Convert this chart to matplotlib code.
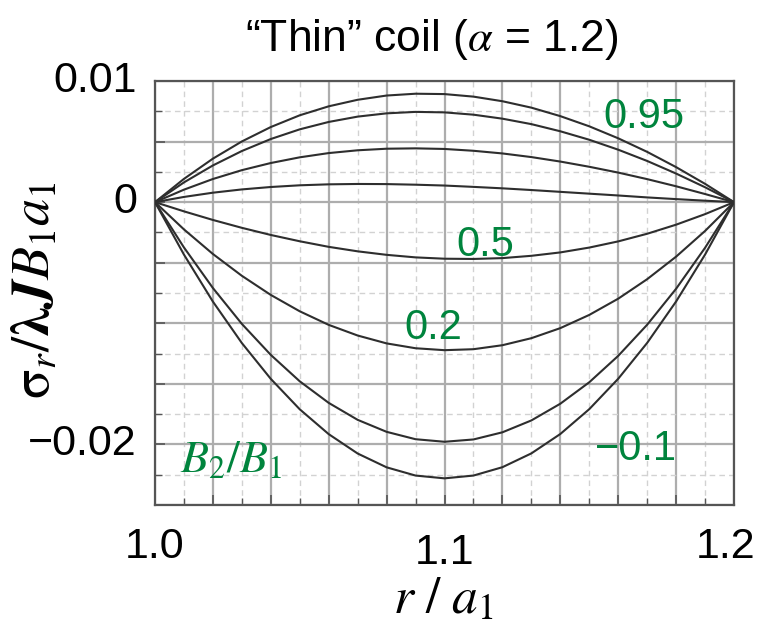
import matplotlib
matplotlib.use("Agg")
import matplotlib.pyplot as plt
import matplotlib.transforms as mtransforms
from matplotlib.ticker import MultipleLocator, NullFormatter

# ---- data ----
r = [1.00, 1.01, 1.02, 1.03, 1.04, 1.05, 1.06, 1.07, 1.08, 1.09, 1.10,
     1.11, 1.12, 1.13, 1.14, 1.15, 1.16, 1.17, 1.18, 1.19, 1.20]

s_095 = [0, 0.00192, 0.00359, 0.00501, 0.00620, 0.00717, 0.00791, 0.00845, 0.00880, 0.00895, 0.00892,
         0.00871, 0.00833, 0.00780, 0.00710, 0.00626, 0.00527, 0.00415, 0.00289, 0.00151, 0]
s_090 = [0, 0.00163, 0.00303, 0.00422, 0.00521, 0.00601, 0.00662, 0.00706, 0.00733, 0.00745, 0.00741,
         0.00722, 0.00689, 0.00644, 0.00585, 0.00515, 0.00433, 0.00340, 0.00236, 0.00123, 0]
s_080 = [0, 0.00103, 0.00191, 0.00264, 0.00323, 0.00370, 0.00405, 0.00428, 0.00441, 0.00444, 0.00439,
         0.00424, 0.00402, 0.00372, 0.00335, 0.00292, 0.00244, 0.00190, 0.00131, 0.00067, 0]
s_070 = [0, 0.00043, 0.00078, 0.00105, 0.00125, 0.00139, 0.00147, 0.00150, 0.00149, 0.00144, 0.00137,
         0.00126, 0.00114, 0.00100, 0.00085, 0.00070, 0.00055, 0.00039, 0.00025, 0.00012, 0]
s_050 = [0, -0.00076, -0.00147, -0.00212, -0.00271, -0.00323, -0.00369, -0.00406, -0.00435, -0.00456, -0.00467,
         -0.00469, -0.00462, -0.00443, -0.00415, -0.00375, -0.00324, -0.00261, -0.00186, -0.00099, 0]
s_020 = [0, -0.00225, -0.00428, -0.00608, -0.00766, -0.00901, -0.01013, -0.01101, -0.01166, -0.01206, -0.01222,
         -0.01214, -0.01181, -0.01123, -0.01040, -0.00931, -0.00797, -0.00636, -0.00450, -0.00238, 0]
s_000 = [0, -0.00374, -0.00709, -0.01005, -0.01261, -0.01479, -0.01657, -0.01797, -0.01896, -0.01957, -0.01978,
         -0.01959, -0.01900, -0.01802, -0.01664, -0.01487, -0.01269, -0.01012, -0.00715, -0.00377, 0]
s_m01 = [0, -0.00433, -0.00821, -0.01163, -0.01459, -0.01710, -0.01915, -0.02075, -0.02189, -0.02257, -0.02280,
         -0.02257, -0.02188, -0.02074, -0.01914, -0.01709, -0.01458, -0.01162, -0.00820, -0.00433, 0]
series = [s_095, s_090, s_080, s_070, s_050, s_020, s_000, s_m01]

curve_labels = ["0.95", "0.5", "0.2", "\u22120.1"]
label_pos = [(1.1690, 0.00700), (1.1140, -0.00350), (1.0960, -0.01040), (1.1660, -0.02040)]

xtick_vals = [1.0, 1.1, 1.2]
xtick_text = ["1.0", "1.1", "1.2"]
ytick_vals = [0.01, 0.0, -0.02]
ytick_text = ["0.01", "0", "\u22120.02"]

# ---- style ----
plt.rcParams['font.family'] = ['Liberation Sans', 'DejaVu Sans']
plt.rcParams['mathtext.fontset'] = 'stix'
green = '#00843D'

fig = plt.figure(figsize=(7.57, 6.31), dpi=100)
L, R, T, B = 155, 734, 81, 505
ax = fig.add_axes([L / 757, 1 - B / 631, (R - L) / 757, (B - T) / 631])

ax.set_xlim(1.0, 1.2)
ax.set_ylim(-0.025, 0.01)

ax.xaxis.set_major_locator(MultipleLocator(0.02))
ax.xaxis.set_minor_locator(MultipleLocator(0.01))
ax.yaxis.set_major_locator(MultipleLocator(0.005))
ax.yaxis.set_minor_locator(MultipleLocator(0.0025))
ax.xaxis.set_major_formatter(NullFormatter())
ax.yaxis.set_major_formatter(NullFormatter())

ax.grid(which='minor', color='#d2d2d2', linestyle=(0, (4, 3)), linewidth=1.0, zorder=0)
ax.grid(which='major', color='#adadad', linestyle='-', linewidth=1.6, zorder=0)
ax.tick_params(which='both', direction='in', top=False, right=False, color='#555555')
ax.tick_params(which='major', length=7, width=1.2)
ax.tick_params(which='minor', length=5, width=1.0)

for sp in ax.spines.values():
    sp.set_color('#555555')
    sp.set_linewidth(1.6)

for s in series:
    ax.plot(r, s, color='#2e2e2e', linewidth=1.5, zorder=3)

for txt, (xv, yv) in zip(curve_labels, label_pos):
    ax.text(xv, yv, txt, color=green, fontsize=30, ha='center', va='center', zorder=4)

ax.text(0.132, 0.105, r'$B_2/B_1$', transform=ax.transAxes, color=green, fontsize=33,
        ha='center', va='center', zorder=4)

# tick labels
xoff = [(0, 0), (0, 6), (-8, 0)]
for xv, t, (ox, oy) in zip(xtick_vals, xtick_text, xoff):
    ax.text(xv, 0, t, transform=mtransforms.blended_transform_factory(ax.transData, ax.transAxes)
            + mtransforms.ScaledTranslation(ox / 100, -(22 + oy) / 100, fig.dpi_scale_trans),
            fontsize=31, ha='center', va='top')
for yv, t in zip(ytick_vals, ytick_text):
    ax.text(0, yv, t, transform=mtransforms.blended_transform_factory(ax.transAxes, ax.transData)
            + mtransforms.ScaledTranslation(-18 / 100, 0, fig.dpi_scale_trans),
            fontsize=31, ha='right', va='center')

fig.text(432 / 757, 1 - 40 / 631, '\u201cThin\u201d coil ($\\alpha$ = 1.2)', fontsize=32,
         ha='center', va='center')
fig.text(443 / 757, 1 - 600 / 631, r'$r\ /\ a_1$', fontsize=37, ha='center', va='center')
fig.text(36 / 757, 1 - 290 / 631, r'$\mathrm{\sigma}_r/\boldsymbol{\lambda J}B_1a_1$', fontsize=39,
         ha='center', va='center', rotation=90)

fig.savefig('out.png', dpi=100)
